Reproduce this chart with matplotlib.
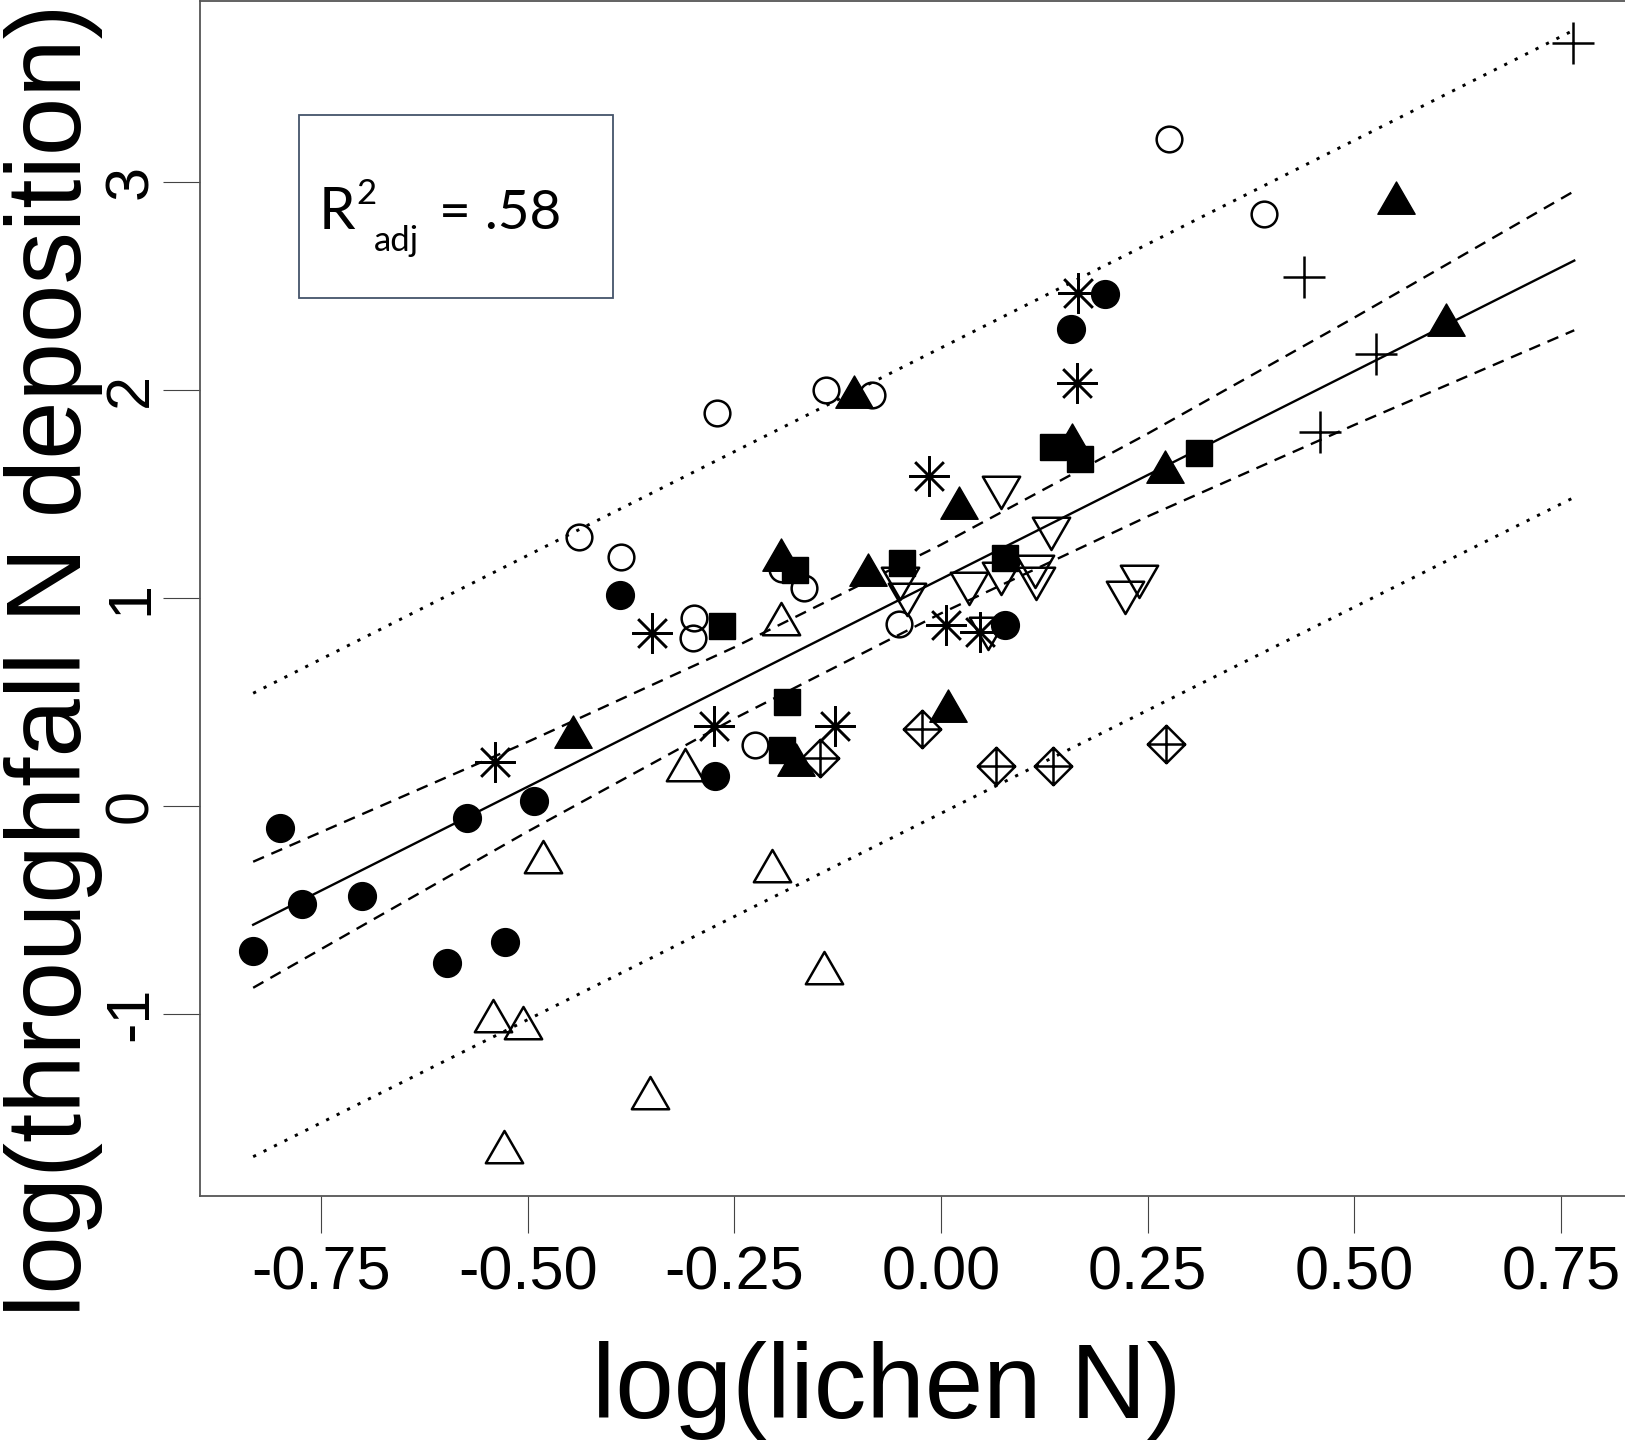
import matplotlib
matplotlib.use("Agg")
import matplotlib.pyplot as plt
from matplotlib.path import Path
from matplotlib.patches import Rectangle

plt.rcParams['font.family'] = ['Liberation Sans', 'DejaVu Sans']

# --- data: log(lichen N) vs log(throughfall N deposition), one list pair per symbol ---
filled_circle_x = [-0.832, -0.773, -0.700, -0.800, -0.573, -0.492, -0.598, -0.527,
                   -0.388, -0.273, 0.157, 0.198, 0.077]
filled_circle_y = [-0.696, -0.471, -0.433, -0.108, -0.058, 0.025, -0.756, -0.655,
                   1.014, 0.146, 2.292, 2.462, 0.870]

open_circle_x = [-0.438, -0.387, -0.271, -0.139, -0.084, 0.276, 0.391, -0.299,
                 -0.300, -0.166, -0.192, -0.051, -0.225]
open_circle_y = [1.292, 1.196, 1.889, 1.998, 1.976, 3.205, 2.845, 0.902,
                 0.806, 1.047, 1.138, 0.875, 0.293]

filled_tri_x = [-0.445, -0.105, 0.550, 0.611, 0.271, 0.159, 0.022, -0.193,
                -0.088, 0.008, -0.175]
filled_tri_y = [0.333, 1.965, 2.900, 2.311, 1.604, 1.734, 1.433, 1.181,
                1.109, 0.458, 0.199]

open_tri_x = [-0.310, -0.194, -0.481, -0.204, -0.142, -0.542, -0.505, -0.352, -0.529]
open_tri_y = [0.175, 0.874, -0.268, -0.311, -0.804, -1.034, -1.069, -1.405, -1.663]

down_tri_x = [0.073, 0.133, -0.049, -0.041, 0.034, 0.073, 0.114, 0.115,
              0.240, 0.223, 0.057]
down_tri_y = [1.535, 1.338, 1.098, 1.018, 1.073, 1.119, 1.154, 1.098,
              1.106, 1.030, 0.857]

asterisk_x = [-0.540, -0.350, -0.275, -0.128, -0.015, 0.006, 0.047, 0.166, 0.165]
asterisk_y = [0.213, 0.830, 0.385, 0.385, 1.587, 0.870, 0.838, 2.465, 2.035]

square_x = [-0.265, -0.177, -0.047, -0.186, -0.192, 0.077, 0.135, 0.168, 0.312]
square_y = [0.867, 1.135, 1.170, 0.499, 0.269, 1.191, 1.725, 1.667, 1.696]

plus_x = [0.765, 0.439, 0.526, 0.459]
plus_y = [3.667, 2.545, 2.172, 1.800]

diamond_plus_x = [-0.146, -0.023, 0.067, 0.135, 0.272]
diamond_plus_y = [0.229, 0.369, 0.194, 0.194, 0.298]

# regression line, 95% confidence band and 95% prediction band
fit_x = [-0.832, 0.766]
fit_y = [-0.571, 2.622]
ci_x = [-0.832, -0.5, -0.25, 0.0, 0.25, 0.5, 0.766]
ci_upper = [-0.268, 0.308, 0.763, 1.256, 1.790, 2.348, 2.956]
ci_lower = [-0.874, -0.123, 0.420, 0.926, 1.392, 1.832, 2.287]
pi_x = [-0.832, 0.766]
pi_upper = [0.542, 3.731]
pi_lower = [-1.686, 1.484]

xtick_vals = [-0.75, -0.50, -0.25, 0.0, 0.25, 0.50, 0.75]
xtick_labels = ['-0.75', '-0.50', '-0.25', '0.00', '0.25', '0.50', '0.75']
ytick_vals = [-1, 0, 1, 2, 3]
ytick_labels = ['-1', '0', '1', '2', '3']

# --- marker shapes (R-style symbols) ---
M, L, C = Path.MOVETO, Path.LINETO, Path.CLOSEPOLY
tri_up = Path([(0, 1), (0.866, -0.5), (-0.866, -0.5), (0, 1)], [M, L, L, C])
tri_down = Path([(0, -1), (0.866, 0.5), (-0.866, 0.5), (0, -1)], [M, L, L, C])
diamond_plus = Path([(0, 1), (1, 0), (0, -1), (-1, 0), (0, 1),
                     (0, 1), (0, -1), (-1, 0), (1, 0)],
                    [M, L, L, L, C, M, L, M, L])

W, H = 1625, 1440
fig = plt.figure(figsize=(W / 100, H / 100), dpi=100)
fig.patch.set_facecolor('white')

x0, x1 = -0.8963, 0.8673
y0, y1 = -1.875, 3.870
ax = fig.add_axes([200 / W, (H - 1196) / H, (1658 - 200) / W, 1195 / H])
ax.set_xlim(x0, x1)
ax.set_ylim(y0, y1)

for s in ax.spines.values():
    s.set_color('#555555')
    s.set_linewidth(1.3)

# lines
ax.plot(fit_x, fit_y, color='black', lw=1.7)
ax.plot(ci_x, ci_upper, color='black', lw=1.7, ls=(0, (5, 3.4)))
ax.plot(ci_x, ci_lower, color='black', lw=1.7, ls=(0, (5, 3.4)))
ax.plot(pi_x, pi_upper, color='black', lw=2.1, ls=(0, (1.1, 2.9)))
ax.plot(pi_x, pi_lower, color='black', lw=2.1, ls=(0, (1.1, 2.9)))

# points
mew = 1.8
ax.plot(open_circle_x, open_circle_y, 'o', ms=18.5, mfc='none', mec='black', mew=mew)
ax.plot(open_tri_x, open_tri_y, ls='none', marker=tri_up, ms=31, mfc='none', mec='black', mew=mew)
ax.plot(down_tri_x, down_tri_y, ls='none', marker=tri_down, ms=31, mfc='none', mec='black', mew=mew)
ax.plot(asterisk_x, asterisk_y, ls='none', marker=(8, 2, 0), ms=29, mec='black', mew=mew)
ax.plot(plus_x, plus_y, ls='none', marker='+', ms=30, mec='black', mew=mew)
ax.plot(diamond_plus_x, diamond_plus_y, ls='none', marker=diamond_plus, ms=27,
        mfc='none', mec='black', mew=mew)
ax.plot(filled_circle_x, filled_circle_y, 'o', ms=20, mfc='black', mec='black', mew=1)
ax.plot(filled_tri_x, filled_tri_y, ls='none', marker=tri_up, ms=31, mfc='black', mec='black', mew=1)
ax.plot(square_x, square_y, 's', ms=18.5, mfc='black', mec='black', mew=1)

# axes ticks and labels
ax.set_xticks(xtick_vals)
ax.set_xticklabels(xtick_labels)
ax.set_yticks(ytick_vals)
ax.set_yticklabels(ytick_labels)
ax.tick_params(direction='out', length=26.6, width=0.8, color='#444444',
               labelsize=44, labelcolor='black')
ax.tick_params(axis='x', pad=9.0)
ax.tick_params(axis='y', pad=11.5)
for lbl in ax.get_yticklabels():
    lbl.set_rotation(90)
    lbl.set_rotation_mode('anchor')
    lbl.set_horizontalalignment('center')
    lbl.set_verticalalignment('baseline')

fig.text(887 / W, 1 - 1418 / H, 'log(lichen N)', fontsize=75.6,
         ha='center', va='baseline')
fig.text(81 / W, 1 - 660 / H, 'log(throughfall N deposition)', fontsize=75.6,
         rotation=90, rotation_mode='anchor', ha='center', va='baseline')

# R squared box
fig.add_artist(Rectangle((299 / W, 1 - 298 / H), (613 - 299) / W, (298 - 115) / H,
                         transform=fig.transFigure, fill=False,
                         edgecolor='#44546A', lw=1.3))
fam = ['Lato', 'DejaVu Sans']
fig.text(319 / W, 1 - 229 / H, 'R', fontsize=42, family=fam, va='baseline')
fig.text(356 / W, 1 - 204 / H, '2', fontsize=25, family=fam, va='baseline')
fig.text(374 / W, 1 - 250.7 / H, 'adj', fontsize=25, family=fam, va='baseline')
fig.text(439 / W, 1 - 229 / H, '= .58', fontsize=39.5, family=fam, va='baseline')

fig.savefig('out.png', dpi=100, facecolor='white')
